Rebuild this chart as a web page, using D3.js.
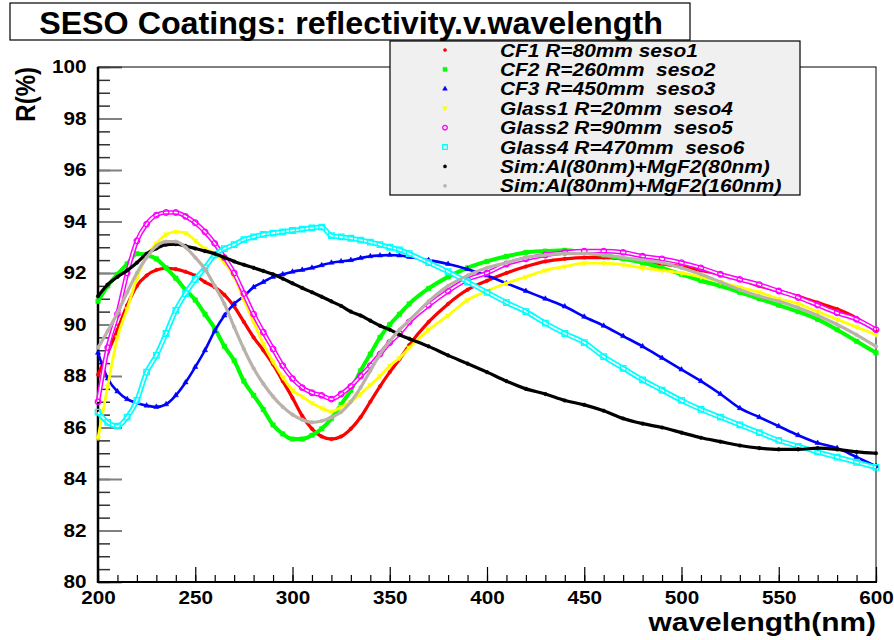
<!DOCTYPE html>
<html>
<head>
<meta charset="utf-8">
<script src="https://cdn.jsdelivr.net/npm/d3@7"></script>
<style>
body { margin: 0; background: #fff; }
text { font-family: "Liberation Sans", Arial, sans-serif; font-weight: bold; white-space: pre; }
</style>
</head>
<body>
<svg id="chart" width="894" height="640"></svg>
<script>
// wavelength grid (nm): 5 nm steps up to 360, then 10 nm steps
var wl = [200,205,210,215,220,225,230,235,240,245,250,255,260,265,270,275,280,285,290,295,300,
          305,310,315,320,325,330,335,340,345,350,355,360,
          370,380,390,400,410,420,430,440,450,460,470,480,490,500,510,520,530,540,550,560,570,580,590,600];

var names = ["CF1 R=80mm seso1", "CF2 R=260mm  seso2", "CF3 R=450mm  seso3", "Glass1 R=20mm  seso4",
             "Glass2 R=90mm  seso5", "Glass4 R=470mm  seso6", "Sim:Al(80nm)+MgF2(80nm)", "Sim:Al(80nm)+MgF2(160nm)"];

var cf1 = [88.05,88.9,89.8,90.75,91.5,91.9,92.12,92.18,92.15,92.05,91.9,91.65,91.45,91.15,90.7,90.1,89.5,89.0,88.45,87.8,87.15,
           86.45,85.95,85.65,85.55,85.65,85.95,86.4,87.0,87.6,88.15,88.65,89.2,
           90.1,90.8,91.35,91.7,92.0,92.25,92.45,92.55,92.6,92.6,92.55,92.45,92.35,92.25,92.1,91.95,91.75,91.5,91.3,91.1,90.85,90.6,90.25,89.75];
var cf2 = [90.9,91.5,91.95,92.35,92.75,92.7,92.55,92.2,91.8,91.35,90.95,90.4,89.85,89.15,88.6,87.8,87.25,86.7,86.1,85.75,85.55,
           85.55,85.7,85.95,86.35,86.9,87.45,88.2,88.85,89.5,90.0,90.4,90.8,
           91.4,91.85,92.2,92.45,92.65,92.8,92.85,92.88,92.8,92.7,92.55,92.4,92.2,91.95,91.7,91.5,91.25,91.0,90.75,90.5,90.2,89.8,89.35,88.9];
var cf3 = [88.9,87.9,87.4,87.1,86.95,86.85,86.8,86.9,87.25,87.75,88.35,89.0,89.75,90.35,90.8,91.1,91.45,91.65,91.85,91.95,92.05,
           92.12,92.2,92.3,92.4,92.45,92.5,92.58,92.65,92.68,92.7,92.68,92.62,
           92.5,92.35,92.15,91.9,91.6,91.3,91.0,90.7,90.3,89.95,89.55,89.15,88.7,88.25,87.8,87.3,86.75,86.4,86.05,85.7,85.4,85.2,84.85,84.5];
var glass1 = [85.6,87.6,89.5,90.6,91.8,92.65,93.15,93.5,93.6,93.55,93.25,92.95,92.75,92.4,91.85,90.95,90.1,89.25,88.55,87.95,87.45,
              87.2,86.95,86.75,86.62,86.8,87.0,87.3,87.65,88.0,88.4,88.7,89.1,
              89.8,90.35,90.95,91.3,91.6,91.85,92.1,92.25,92.38,92.38,92.32,92.2,92.1,92.0,91.85,91.65,91.45,91.25,91.0,90.8,90.5,90.2,89.9,89.6];
var glass2 = [87.0,89.1,90.4,92.0,93.25,93.9,94.25,94.35,94.35,94.2,93.95,93.6,93.15,92.6,92.0,91.2,90.4,89.7,89.05,88.4,87.9,
              87.55,87.35,87.25,87.1,87.3,87.6,88.0,88.4,88.85,89.3,89.65,90.1,
              90.75,91.3,91.75,92.0,92.35,92.55,92.7,92.8,92.85,92.85,92.8,92.65,92.55,92.4,92.2,91.95,91.75,91.55,91.3,91.05,90.75,90.45,90.2,89.8];
var glass4 = [86.6,86.2,86.05,86.4,87.05,88.15,88.8,89.65,90.55,91.2,91.75,92.2,92.7,92.95,93.1,93.3,93.4,93.5,93.55,93.6,93.65,
              93.7,93.75,93.78,93.45,93.4,93.35,93.28,93.2,93.1,93.0,92.9,92.75,
              92.4,92.05,91.65,91.25,90.85,90.5,90.05,89.65,89.3,88.75,88.3,87.85,87.45,87.05,86.7,86.4,86.1,85.8,85.5,85.27,85.05,84.85,84.65,84.45];
var sim80 = [91.1,91.55,91.85,92.1,92.4,92.75,92.95,93.1,93.12,93.05,92.95,92.85,92.75,92.6,92.45,92.32,92.2,92.08,91.95,91.78,91.6,
             91.42,91.25,91.08,90.9,90.72,90.5,90.35,90.15,89.95,89.8,89.6,89.45,
             89.15,88.8,88.48,88.15,87.8,87.5,87.3,87.05,86.88,86.65,86.35,86.15,86.0,85.8,85.6,85.45,85.3,85.2,85.15,85.15,85.2,85.15,85.05,85.0];
var sim160 = [89.1,89.75,90.45,91.25,92.0,92.6,93.05,93.22,93.22,93.0,92.6,92.15,91.5,90.8,89.9,89.05,88.3,87.7,87.2,86.8,86.5,
              86.3,86.2,86.25,86.4,86.6,87.0,87.55,88.2,88.85,89.35,89.8,90.15,
              90.9,91.5,91.9,92.2,92.4,92.6,92.7,92.75,92.75,92.7,92.6,92.5,92.4,92.2,91.95,91.65,91.35,91.1,90.9,90.65,90.35,90.0,89.6,89.15];

var yTicks = [80,82,84,86,88,90,92,94,96,98,100];
var xTicks = [200,250,300,350,400,450,500,550,600];

var series = [cf1, cf2, cf3, glass1, glass2, glass4, sim80, sim160];

// marker styles, same order as the legend (hollow = open marker, drawn as a band with a white core)
var styles = [
  {color: "#ff0000", sym: d3.symbolCircle,   size: 10, fill: true,  lw: 3.2, rot: 0},
  {color: "#00ff00", sym: d3.symbolSquare,   size: 20, fill: true,  lw: 4,   rot: 0},
  {color: "#0000ff", sym: d3.symbolTriangle, size: 12, fill: true,  lw: 2.6, rot: 0},
  {color: "#ffff00", sym: d3.symbolTriangle, size: 12, fill: true,  lw: 2.8, rot: 180},
  {color: "#ff00ff", sym: d3.symbolCircle,   size: 24, fill: false, lw: 4.6, rot: 0},
  {color: "#00ffff", sym: d3.symbolSquare,   size: 30, fill: false, lw: 5.2, rot: 0},
  {color: "#000000", sym: d3.symbolCircle,   size: 10, fill: true,  lw: 3.2, rot: 0},
  {color: "#bab2aa", sym: d3.symbolCircle,   size: 10, fill: true,  lw: 3.2, rot: 0}
];

var stretch = 1.15;   // text in the original is drawn a bit wide
var svg = d3.select("#chart");

var x = d3.scaleLinear().domain([200, 600]).range([98, 876]);
var y = d3.scaleLinear().domain([80, 100]).range([582, 67]);

function txt(g, px, py, s, size, anchor, extra, sx) {
  return g.append("text")
    .attr("transform", "translate(" + px + "," + py + ") scale(" + (sx || stretch) + ",1)" + (extra || ""))
    .attr("text-anchor", anchor)
    .style("font-size", size + "px")
    .text(s);
}

// minor + major ticks (drawn inside the frame, ROOT style)
svg.append("g")
  .attr("transform", "translate(0,582)")
  .call(d3.axisBottom(x).tickValues(d3.range(200, 601, 10)).tickSize(-7).tickSizeOuter(0).tickFormat(""))
  .call(g => g.select(".domain").remove())
  .selectAll("line").attr("stroke", "#000").attr("stroke-width", 1.2);

var xAxis = svg.append("g")
  .attr("transform", "translate(0,582)")
  .call(d3.axisBottom(x).tickValues(xTicks).tickSize(-15).tickSizeOuter(0).tickPadding(9));
xAxis.select(".domain").remove();
xAxis.selectAll("line").attr("stroke", "#000").attr("stroke-width", 1.2);
xAxis.selectAll("text")
  .attr("fill", "#000")
  .style("font-size", "18px")
  .attr("transform", "scale(" + stretch + ",1)");

svg.append("g")
  .attr("transform", "translate(98,0)")
  .call(d3.axisLeft(y).tickValues(d3.range(80, 100.01, 0.5)).tickSize(-12).tickSizeOuter(0).tickFormat(""))
  .call(g => g.select(".domain").remove())
  .selectAll("line").attr("stroke", "#333").attr("stroke-width", 1.5);

var yAxis = svg.append("g")
  .attr("transform", "translate(98,0)")
  .call(d3.axisLeft(y).tickValues(yTicks).tickSize(-24).tickSizeOuter(0).tickPadding(10));
yAxis.select(".domain").remove();
yAxis.selectAll("line").attr("stroke", "#808080").attr("stroke-width", 2);
yAxis.selectAll("text")
  .attr("fill", "#000")
  .style("font-size", "18px")
  .attr("transform", "scale(" + stretch + ",1)");

// frame
svg.append("rect")
  .attr("x", 98).attr("y", 67).attr("width", 876 - 98).attr("height", 582 - 67)
  .attr("fill", "none").attr("stroke", "#000").attr("stroke-width", 1);
svg.append("line").attr("x1", 98).attr("x2", 98).attr("y1", 67).attr("y2", 583)
  .attr("stroke", "#000").attr("stroke-width", 2.5);
svg.append("line").attr("x1", 97).attr("x2", 877).attr("y1", 582).attr("y2", 582)
  .attr("stroke", "#000").attr("stroke-width", 2);

// curves
var line = d3.line()
  .x(function(d, i) { return x(wl[i]); })
  .y(function(d) { return y(d); })
  .curve(d3.curveMonotoneX);

var plot = svg.append("g");
series.forEach(function(vals, k) {
  var st = styles[k];
  plot.append("path")
    .attr("d", line(vals))
    .attr("fill", "none")
    .attr("stroke", st.color)
    .attr("stroke-width", st.lw);
  if (!st.fill) {
    plot.append("path")
      .attr("d", line(vals))
      .attr("fill", "none")
      .attr("stroke", "#fff")
      .attr("stroke-width", 1.6);
  }
  plot.append("g").selectAll("path")
    .data(vals)
    .enter()
    .append("path")
    .attr("d", d3.symbol().type(st.sym).size(st.size))
    .attr("transform", function(d, i) { return "translate(" + x(wl[i]) + "," + y(d) + ") rotate(" + st.rot + ")"; })
    .attr("fill", st.fill ? st.color : "none")
    .attr("stroke", st.color)
    .attr("stroke-width", st.fill ? 0.5 : 1.3);
});

// title box
svg.append("rect")
  .attr("x", 10).attr("y", 3).attr("width", 680).attr("height", 37)
  .attr("fill", "#fff").attr("stroke", "#000").attr("stroke-width", 1.2);
txt(svg, 351, 34, "SESO Coatings: reflectivity.v.wavelength", 31, "middle", "", 1.04);

// legend
var legend = svg.append("g");
legend.append("rect")
  .attr("x", 390).attr("y", 41).attr("width", 410).attr("height", 154)
  .attr("fill", "#f0f0f0").attr("stroke", "#000").attr("stroke-width", 1.2);
names.forEach(function(n, k) {
  var st = styles[k];
  var cy = 50 + k * 19.4;
  legend.append("path")
    .attr("d", d3.symbol().type(st.sym).size(st.fill ? st.size * 0.8 : st.size * 0.7))
    .attr("transform", "translate(445," + cy + ") rotate(" + st.rot + ")")
    .attr("fill", st.fill ? st.color : "none")
    .attr("stroke", st.color)
    .attr("stroke-width", st.fill ? 0.5 : 1.3);
  txt(legend, 500, cy + 6.5, n, 18.5, "start", "", 1.13).style("font-style", "italic");
});

// axis titles
txt(svg, 876, 631, "wavelength(nm)", 26, "end");
txt(svg, 35, 67, "R(%)", 24, "end", " rotate(-90)");
</script>
</body>
</html>
